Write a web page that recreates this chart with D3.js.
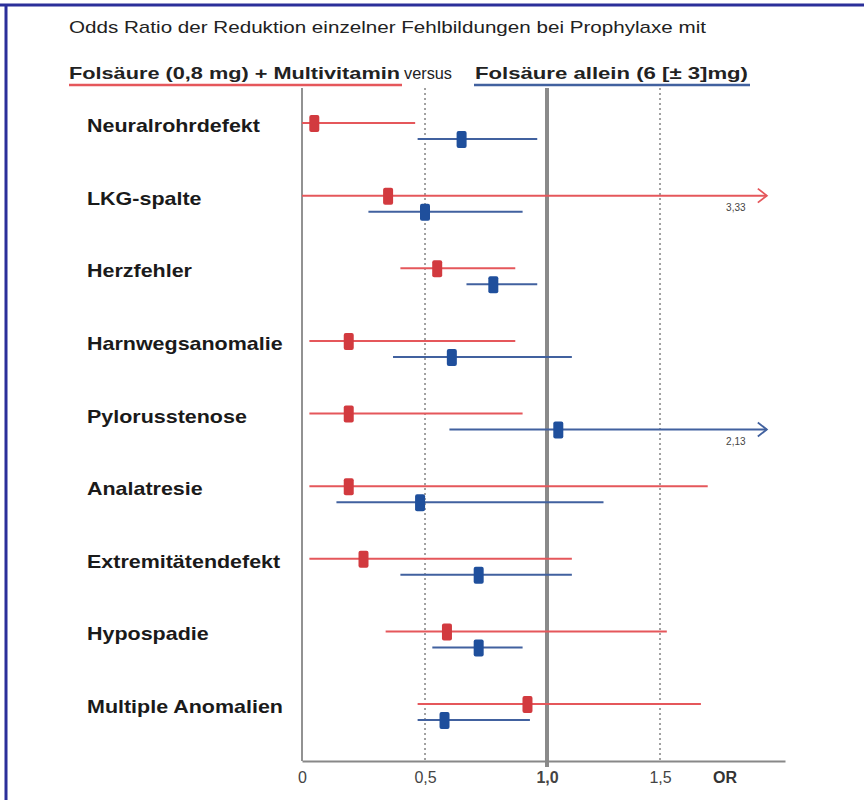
<!DOCTYPE html>
<html><head><meta charset="utf-8">
<script src="https://cdn.jsdelivr.net/npm/d3@7"></script>
<style>body{margin:0;background:#fff}svg{display:block}</style>
</head><body>
<script>
const categories = ["Neuralrohrdefekt","LKG-spalte","Herzfehler","Harnwegsanomalie","Pylorusstenose","Analatresie","Extremitätendefekt","Hypospadie","Multiple Anomalien"];
const redOR   = [0.05, 0.35, 0.55, 0.19, 0.19, 0.19, 0.25, 0.59, 0.92];
const redLow  = [0.00, 0.00, 0.40, 0.03, 0.03, 0.03, 0.03, 0.34, 0.47];
const redHigh = [0.46, 3.33, 0.87, 0.87, 0.90, 1.71, 1.11, 1.53, 1.68];
const blueOR   = [0.65, 0.50, 0.78, 0.61, 1.05, 0.48, 0.72, 0.72, 0.58];
const blueLow  = [0.47, 0.27, 0.67, 0.37, 0.60, 0.14, 0.40, 0.53, 0.47];
const blueHigh = [0.96, 0.90, 0.96, 1.11, 2.13, 1.25, 1.11, 0.90, 0.93];
const tickValues = [0, 0.5, 1.0, 1.5];
const tickLabels = ["0", "0,5", "1,0", "1,5"];
const titleLine1 = "Odds Ratio der Reduktion einzelner Fehlbildungen bei Prophylaxe mit";
const seriesRed = "Folsäure (0,8 mg) + Multivitamin";
const seriesBlue = "Folsäure allein (6 [± 3]mg)";

(function(){
const W = 864, H = 800;
const FONT = "Liberation Sans, Arial, sans-serif";
const svg = d3.select("body").append("svg").attr("width", W).attr("height", H);
const RED = "#d23a3f", REDL = "#e5575b", BLUE = "#1f4f9c", BLUEL = "#41619f";

// frame
svg.append("line").attr("x1",0).attr("x2",W).attr("y1",5).attr("y2",5).attr("stroke","#2b2f9a").attr("stroke-width",3);
svg.append("line").attr("x1",6).attr("x2",6).attr("y1",4).attr("y2",H).attr("stroke","#2b2f9a").attr("stroke-width",3);

const x = d3.scaleLinear().domain([0, 0.5, 1, 1.5, 2.05]).range([302, 425, 547, 660, 785]);
const xMaxShown = 1.97;
const y = d3.scalePoint().domain(categories).range([123, 704]);
const off = 16;
const topY = 88, axisY = 761;

// title
svg.append("text").attr("x", 69).attr("y", 33).attr("font-family",FONT)
  .attr("font-size", 17).attr("fill","#222").attr("textLength", 637).attr("lengthAdjust","spacingAndGlyphs").text(titleLine1);
svg.append("text").attr("x",69).attr("y",79).attr("font-family",FONT).attr("font-size",17).attr("font-weight","bold").attr("fill","#222")
  .attr("textLength", 331).attr("lengthAdjust","spacingAndGlyphs").text(seriesRed);
svg.append("text").attr("x",404).attr("y",79).attr("font-family",FONT).attr("font-size",17).attr("fill","#222")
  .attr("textLength", 48).attr("lengthAdjust","spacingAndGlyphs").text("versus");
svg.append("text").attr("x",475).attr("y",79).attr("font-family",FONT).attr("font-size",17).attr("font-weight","bold").attr("fill","#222")
  .attr("textLength", 273).attr("lengthAdjust","spacingAndGlyphs").text(seriesBlue);
svg.append("line").attr("x1",69).attr("x2",402).attr("y1",85).attr("y2",85).attr("stroke",REDL).attr("stroke-width",2.5);
svg.append("line").attr("x1",474).attr("x2",750).attr("y1",85).attr("y2",85).attr("stroke",BLUEL).attr("stroke-width",2.5);

// reference lines
svg.append("line").attr("x1",x(0)).attr("x2",x(0)).attr("y1",topY).attr("y2",axisY).attr("stroke","#777").attr("stroke-width",1.6);
[0.5, 1.5].forEach(v => svg.append("line").attr("x1",x(v)).attr("x2",x(v)).attr("y1",topY).attr("y2",axisY)
  .attr("stroke","#444").attr("stroke-width",1).attr("stroke-dasharray","2,3"));
svg.append("line").attr("x1",x(1)).attr("x2",x(1)).attr("y1",topY).attr("y2",axisY+6).attr("stroke","#8a8a8a").attr("stroke-width",4);

// x axis
const axis = d3.axisBottom(x).tickValues(tickValues).tickSize(0).tickFormat((d,i)=>tickLabels[i]);
const ga = svg.append("g").attr("transform",`translate(0,${axisY})`).call(axis);
ga.select(".domain").attr("stroke","#888").attr("stroke-width",2);
ga.selectAll("text").attr("dy", 19).attr("font-family",FONT).attr("font-size",16)
  .attr("fill","#444").attr("font-weight",(d)=> d===1 ? "bold":"normal");
svg.append("text").attr("x",725).attr("y",783).attr("text-anchor","middle").attr("font-family",FONT)
  .attr("font-size",16).attr("font-weight","bold").attr("fill","#333").text("OR");

// category labels
svg.selectAll("text.cat").data(categories).join("text").attr("class","cat")
  .attr("x",87).attr("y",d=>y(d)+9).attr("font-family",FONT).attr("font-size",18.5)
  .attr("font-weight","bold").attr("fill","#1a1a1a").text(d=>d)
  .each(function(){ const w = this.getComputedTextLength(); d3.select(this).attr("textLength", w*1.16).attr("lengthAdjust","spacingAndGlyphs"); });

function series(or, lo, hi, dy, lineCol, markCol){
  const data = categories.map((c,i)=>({c, or:or[i], lo:lo[i], hi:hi[i]}));
  const g = svg.append("g");
  g.selectAll("line.ci").data(data).join("line").attr("class","ci")
    .attr("x1",d=>x(d.lo)).attr("x2",d=>x(Math.min(d.hi,xMaxShown))).attr("y1",d=>y(d.c)+dy).attr("y2",d=>y(d.c)+dy)
    .attr("stroke",lineCol).attr("stroke-width",2);
  const over = data.filter(d=>d.hi>xMaxShown);
  g.selectAll("path.arr").data(over).join("path").attr("class","arr")
    .attr("d",d=>{const xe=x(xMaxShown), yy=y(d.c)+dy; return `M${xe-9},${yy-7}L${xe},${yy}L${xe-9},${yy+7}`;})
    .attr("fill","none").attr("stroke",lineCol).attr("stroke-width",1.8);
  g.selectAll("text.arl").data(over).join("text").attr("class","arl")
    .attr("x",d=>x(xMaxShown)-31).attr("y",d=>y(d.c)+dy+15).attr("text-anchor","middle")
    .attr("font-family",FONT).attr("font-size",10).attr("fill","#444")
    .text(d=>d3.format(".2f")(d.hi).replace(".",","));
  g.selectAll("rect.m").data(data).join("rect").attr("class","m")
    .attr("x",d=>x(d.or)-5).attr("y",d=>y(d.c)+dy-8).attr("width",10).attr("height",17).attr("rx",2)
    .attr("fill",markCol);
}
series(redOR, redLow, redHigh, 0, REDL, RED);
series(blueOR, blueLow, blueHigh, off, BLUEL, BLUE);
})();
</script>
</body></html>
